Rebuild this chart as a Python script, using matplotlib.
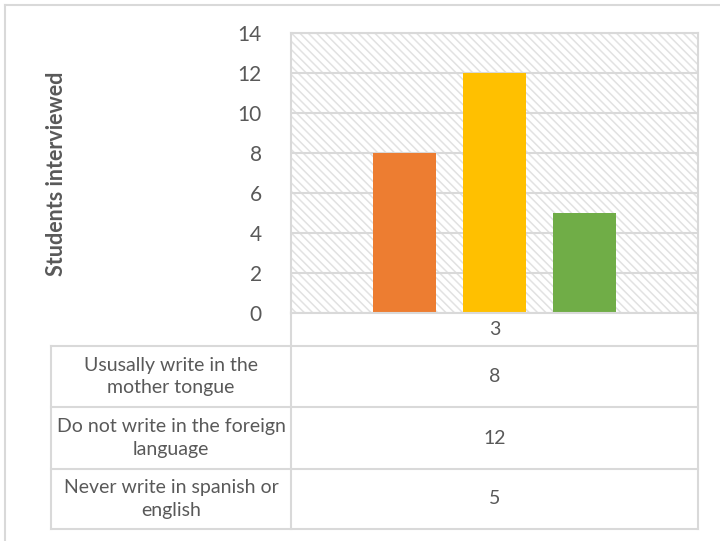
import matplotlib.pyplot as plt
from matplotlib.patches import Rectangle
from matplotlib.lines import Line2D

# datos
category = "3"
series_names = ["Ususally write in the\nmother tongue",
                "Do not write in the foreign\nlanguage",
                "Never write in spanish or\nenglish"]
values = [8, 12, 5]
colors = ["#ED7D31", "#FFC000", "#70AD47"]
yticks = [0, 2, 4, 6, 8, 10, 12, 14]

plt.rcParams['font.family'] = ['Lato', 'DejaVu Sans']
plt.rcParams['hatch.linewidth'] = 1.1
W, H = 720, 541
fig = plt.figure(figsize=(7.2, 5.41), dpi=100)
grey = "#D9D9D9"
txt = "#595959"

def fx(px):
    return px / W

def fy(py):
    return 1 - py / H

# borde exterior del grafico
fig.add_artist(Line2D([fx(5), fx(720)], [fy(5), fy(5)], color=grey, lw=1.5))
fig.add_artist(Line2D([fx(5), fx(5)], [fy(5), fy(541)], color=grey, lw=1.5))

# area de trazado
left, right, top, bottom = 291, 698, 33, 313
ax = fig.add_axes([fx(left), fy(bottom), fx(right - left), (bottom - top) / H])
ax.set_xlim(-0.5, 0.5)
ax.set_ylim(0, 14)

bg = Rectangle((0, 0), 1, 1, transform=ax.transAxes, facecolor="white",
               edgecolor="#E2E2E2", hatch="\\\\\\\\", lw=0, zorder=0)
ax.add_patch(bg)

for t in yticks:
    ax.axhline(t, color=grey, lw=1.5, zorder=1)

bw = 63 / (right - left)
off = 90 / (right - left)
for i, (v, c) in enumerate(zip(values, colors)):
    ax.bar((i - 1) * off, v, width=bw, color=c, zorder=2)

ax.set_yticks(yticks)
ax.set_yticklabels([str(t) for t in yticks], fontsize=15, color=txt)
ax.tick_params(axis='y', length=0, pad=21)
ax.set_xticks([])
for s in ax.spines.values():
    s.set_color(grey)
    s.set_linewidth(1.5)

fig.text(fx(57), fy(174), "Students interviewed", rotation=90, fontsize=15.5,
         fontweight='bold', color=txt, ha='center', va='center')

# tabla de datos
tab_left = 51
rows = [313, 346, 407, 469, 529]
lw = 1.5
fig.add_artist(Line2D([fx(left), fx(left)], [fy(rows[0]), fy(rows[-1])], color=grey, lw=lw))
fig.add_artist(Line2D([fx(right), fx(right)], [fy(rows[0]), fy(rows[-1])], color=grey, lw=lw))
fig.add_artist(Line2D([fx(tab_left), fx(tab_left)], [fy(rows[1]), fy(rows[-1])], color=grey, lw=lw))
for r in rows[1:]:
    fig.add_artist(Line2D([fx(tab_left), fx(right)], [fy(r), fy(r)], color=grey, lw=lw))

fig.text(fx((left + right) / 2), fy((rows[0] + rows[1]) / 2), category,
         fontsize=14, color=txt, ha='center', va='center')
for i, (name, v) in enumerate(zip(series_names, values)):
    yc = fy((rows[i + 1] + rows[i + 2]) / 2)
    fig.text(fx((tab_left + left) / 2), yc, name, fontsize=14, color=txt,
             ha='center', va='center', multialignment='center', linespacing=1.4)
    fig.text(fx((left + right) / 2), yc, str(v), fontsize=14, color=txt,
             ha='center', va='center')

fig.savefig("out.png", dpi=100)
